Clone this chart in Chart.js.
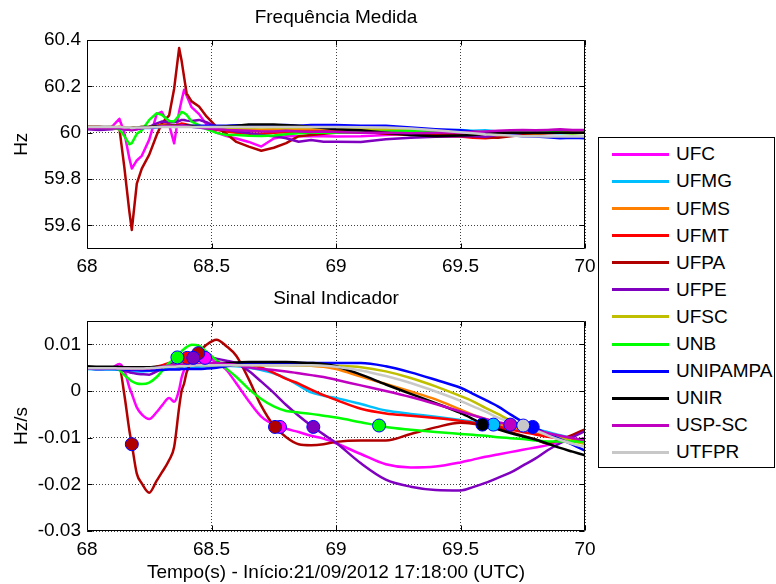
<!DOCTYPE html>
<html>
<head>
<meta charset="utf-8">
<script src="https://cdn.jsdelivr.net/npm/chart.js@4.4.1/dist/chart.umd.min.js"></script>
<style>
  html, body { margin: 0; padding: 0; background: #fff; }
  #fig { position: relative; width: 776px; height: 584px; overflow: hidden;
         font-family: 'Liberation Sans', Arial, Helvetica, sans-serif; }
  #fig canvas { position: absolute; left: 0; }
  #freqCanvas { top: 0; }
  #rateCanvas { top: 280px; }
  #legend { position: absolute; left: 598px; top: 137px; width: 177px; height: 331px;
            box-sizing: border-box; border: 1px solid #000; background: #fff; }
  #legend .swatch { position: absolute; left: 13px; width: 57px; height: 3px; }
  #legend .label { position: absolute; left: 77px; font-size: 19px; line-height: 20px;
                   color: #000; white-space: nowrap; }
</style>
</head>
<body>
<div id="fig">
  <canvas id="freqCanvas" width="776" height="280"></canvas>
  <canvas id="rateCanvas" width="776" height="304"></canvas>
  <div id="legend"></div>
</div>
<script>
// ---- stations, colours ----
const stations = ['UFC','UFMG','UFMS','UFMT','UFPA','UFPE','UFSC','UNB','UNIPAMPA','UNIR','USP-SC','UTFPR'];
const stationColors = ['#FF00FF','#00BFFF','#FF8000','#FF0000','#B00000','#8000C0','#BFBF00','#00FF00','#0000FF','#000000','#C000C0','#C8C8C8'];

// ---- sample instants (s) ----
const times = [68.00,68.05,68.10,68.13,68.15,68.17,68.18,68.20,68.22,68.25,68.28,68.30,68.33,68.35,68.37,68.38,68.39,68.40,68.42,68.45,68.48,68.52,68.56,68.60,68.65,68.70,68.75,68.80,68.85,68.90,68.95,69.00,69.10,69.20,69.30,69.40,69.50,69.55,69.60,69.65,69.70,69.75,69.80,69.85,69.90,69.95,70.00];

// ---- measured frequency (Hz) ----
const freqUFC = [60.02,60.02,60.025,60.06,60.0,59.89,59.845,59.88,59.90,59.97,60.08,60.09,60.033,59.954,60.09,60.14,60.185,60.16,60.11,60.08,60.035,60.0,59.985,59.975,59.96,59.94,59.975,59.985,59.985,59.985,59.985,59.983,59.985,59.99,59.995,59.995,60.0,60.0,60.0,59.998,60.0,60.0,60.002,60.0,60.0,60.0,60.0];
const freqUFMG = [60.02,60.022,60.018,60.02,60.015,60.012,60.015,60.018,60.02,60.02,60.022,60.025,60.028,60.025,60.028,60.03,60.03,60.028,60.025,60.022,60.018,60.015,60.012,60.01,60.008,60.01,60.012,60.01,60.012,60.015,60.012,60.012,60.015,60.01,60.012,60.01,60.012,60.008,60.01,60.005,60.0,60.002,60.0,60.0,59.998,60.0,60.0];
const freqUFMS = [60.025,60.025,60.022,60.025,60.02,60.018,60.02,60.022,60.025,60.025,60.028,60.03,60.03,60.028,60.03,60.032,60.03,60.03,60.028,60.025,60.022,60.02,60.018,60.015,60.012,60.012,60.015,60.012,60.015,60.015,60.012,60.015,60.012,60.01,60.008,60.005,60.005,60.003,60.0,60.0,60.002,60.0,59.998,60.0,60.0,59.998,60.0];
const freqUFMT = [60.02,60.022,60.02,60.025,60.02,60.015,60.015,60.02,60.022,60.025,60.03,60.035,60.035,60.03,60.035,60.04,60.038,60.035,60.03,60.025,60.02,60.012,60.005,60.0,59.995,59.995,60.0,60.002,60.005,60.005,60.005,60.005,60.0,60.0,59.995,59.985,59.983,59.978,59.976,59.98,59.99,59.995,60.0,60.0,60.0,60.002,60.0];
const freqUFPA = [60.025,60.025,60.02,60.02,59.85,59.66,59.58,59.78,59.845,59.905,59.99,60.04,60.075,60.19,60.365,60.31,60.24,60.17,60.135,60.113,60.07,60.025,59.995,59.96,59.94,59.922,59.935,59.955,59.985,59.99,59.995,60.0,60.005,59.995,59.99,59.995,59.99,59.985,59.98,59.978,59.985,59.99,59.995,59.998,60.0,60.0,60.0];
const freqUFPE = [60.015,60.012,60.015,60.02,60.015,60.012,60.01,60.015,60.02,60.025,60.04,60.048,60.045,60.045,60.05,60.055,60.055,60.052,60.05,60.055,60.045,60.025,60.015,60.005,59.998,59.99,59.985,59.976,59.961,59.968,59.961,59.961,59.96,59.972,59.978,59.982,59.985,59.985,59.982,59.99,60.0,60.01,60.005,60.01,60.012,60.008,60.01];
const freqUFSC = [60.025,60.022,60.025,60.025,60.022,60.02,60.02,60.022,60.025,60.025,60.028,60.03,60.03,60.03,60.03,60.032,60.03,60.03,60.03,60.028,60.025,60.025,60.022,60.02,60.02,60.022,60.022,60.02,60.022,60.022,60.02,60.02,60.018,60.015,60.012,60.008,60.005,60.005,60.002,60.0,60.0,60.0,59.998,60.0,60.0,60.0,60.0];
const freqUNB = [60.02,60.02,60.02,60.015,59.985,59.95,59.955,59.995,60.01,60.055,60.084,60.077,60.05,60.048,60.075,60.09,60.085,60.077,60.048,60.033,60.015,59.999,59.99,59.99,59.987,59.986,59.988,59.993,59.997,60.0,60.0,60.0,60.003,60.005,60.008,60.005,60.005,60.0,60.003,60.005,60.0,60.005,60.0,60.003,60.0,59.998,60.0];
const freqUNIPAMPA = [60.022,60.02,60.022,60.02,60.018,60.015,60.015,60.018,60.02,60.022,60.025,60.025,60.028,60.025,60.028,60.03,60.03,60.03,60.03,60.03,60.03,60.03,60.03,60.032,60.032,60.03,60.032,60.033,60.03,60.033,60.033,60.033,60.03,60.03,60.022,60.015,60.01,60.005,60.0,59.995,59.99,59.985,59.983,59.98,59.976,59.978,59.976];
const freqUNIR = [60.025,60.025,60.025,60.022,60.02,60.02,60.02,60.022,60.025,60.025,60.028,60.028,60.03,60.03,60.03,60.03,60.03,60.03,60.028,60.025,60.022,60.025,60.028,60.03,60.035,60.035,60.035,60.032,60.03,60.025,60.02,60.015,60.01,60.0,59.99,59.985,59.988,59.99,59.995,60.0,60.0,60.0,60.0,60.0,60.0,60.0,60.0];
const freqUSPSC = [60.018,60.02,60.018,60.02,60.015,60.012,60.012,60.015,60.02,60.022,60.025,60.028,60.03,60.028,60.03,60.032,60.03,60.028,60.025,60.022,60.018,60.015,60.012,60.01,60.008,60.005,60.005,60.008,60.005,60.003,60.005,60.003,60.0,60.0,59.998,60.0,60.002,60.003,60.005,60.008,60.01,60.012,60.01,60.012,60.015,60.012,60.012];
const freqUTFPR = [60.025,60.025,60.025,60.025,60.022,60.022,60.02,60.022,60.022,60.022,60.025,60.025,60.025,60.025,60.025,60.025,60.025,60.025,60.025,60.025,60.025,60.025,60.025,60.025,60.025,60.025,60.025,60.025,60.025,60.025,60.025,60.025,60.023,60.022,60.018,60.01,60.002,59.998,59.993,59.99,59.988,59.985,59.985,59.983,59.983,59.985,59.983];

// ---- indicator signal (Hz/s) ----
const rateUFC = [0.0048,0.0049,0.005,0.0058,0.0045,0.0008,-0.0006,-0.0035,-0.005,-0.006,-0.0045,-0.0032,-0.0015,-0.0023,0.0003,0.0029,0.0045,0.0057,0.007,0.0075,0.0071,0.0062,0.0045,0.0016,-0.0022,-0.0055,-0.0072,-0.0081,-0.0088,-0.0096,-0.0102,-0.0112,-0.0135,-0.0157,-0.0164,-0.0162,-0.0153,-0.0147,-0.0141,-0.0136,-0.0131,-0.0126,-0.0121,-0.0116,-0.011,-0.0106,-0.0101];
const rateUFMG = [0.0047,0.0046,0.0046,0.0045,0.0044,0.0043,0.0043,0.0042,0.0042,0.0043,0.0045,0.0046,0.0048,0.0049,0.005,0.005,0.005,0.0051,0.0051,0.0052,0.0053,0.0054,0.0054,0.0053,0.005,0.0045,0.0038,0.0027,0.0012,-0.0003,-0.001,-0.0015,-0.0028,-0.0042,-0.0049,-0.0055,-0.0062,-0.0066,-0.0069,-0.0073,-0.0076,-0.0079,-0.0082,-0.0088,-0.0095,-0.0101,-0.0106];
const rateUFMS = [0.0049,0.0049,0.005,0.005,0.005,0.0049,0.0049,0.0049,0.0049,0.005,0.0052,0.0054,0.0057,0.0059,0.006,0.0061,0.0061,0.0061,0.006,0.0058,0.0057,0.0056,0.0056,0.0056,0.0055,0.0056,0.0056,0.0056,0.0055,0.0054,0.0052,0.0047,0.0031,0.0015,-0.0001,-0.0018,-0.004,-0.0051,-0.006,-0.007,-0.0077,-0.0084,-0.009,-0.0095,-0.01,-0.0105,-0.011];
const rateUFMT = [0.0048,0.0048,0.005,0.005,0.0048,0.0047,0.0046,0.0046,0.0046,0.0047,0.0052,0.0055,0.006,0.0064,0.0067,0.0068,0.0069,0.007,0.0068,0.0064,0.006,0.0057,0.0056,0.0058,0.0057,0.005,0.0039,0.0026,0.0016,0.0003,-0.0009,-0.0019,-0.0038,-0.0048,-0.0053,-0.0058,-0.0064,-0.0068,-0.0072,-0.0076,-0.0082,-0.0088,-0.0093,-0.0098,-0.0102,-0.0106,-0.0109];
const rateUFPA = [0.005,0.005,0.005,0.0049,-0.0008,-0.0084,-0.0114,-0.0177,-0.0198,-0.0218,-0.0192,-0.0175,-0.0148,-0.012,-0.0035,0.0,0.0016,0.004,0.0062,0.0083,0.0099,0.011,0.0096,0.0075,0.0025,-0.0032,-0.0074,-0.0099,-0.0114,-0.0116,-0.0114,-0.0109,-0.0106,-0.0106,-0.0092,-0.0078,-0.0068,-0.007,-0.0074,-0.008,-0.0088,-0.0096,-0.0104,-0.0112,-0.0104,-0.0094,-0.0082];
const rateUFPE = [0.0048,0.0047,0.0048,0.0046,0.0043,0.004,0.0039,0.0037,0.0036,0.0035,0.0042,0.0047,0.0056,0.0062,0.0066,0.0067,0.0068,0.0069,0.0071,0.0072,0.0072,0.0069,0.0065,0.006,0.0043,0.002,-0.0004,-0.003,-0.0053,-0.0074,-0.0093,-0.0111,-0.0155,-0.019,-0.0205,-0.0212,-0.0213,-0.0206,-0.0197,-0.0186,-0.0175,-0.016,-0.0145,-0.0127,-0.0112,-0.0099,-0.0086];
const rateUFSC = [0.0049,0.0049,0.005,0.005,0.0049,0.0049,0.0049,0.0049,0.0049,0.005,0.0051,0.0052,0.0054,0.0055,0.0056,0.0056,0.0056,0.0056,0.0056,0.0056,0.0055,0.0055,0.0055,0.0055,0.0055,0.0055,0.0055,0.0055,0.0055,0.0055,0.0055,0.0054,0.0051,0.0042,0.0028,0.001,-0.0011,-0.0022,-0.0036,-0.0049,-0.0063,-0.0073,-0.0083,-0.0091,-0.0099,-0.0107,-0.0114];
const rateUNB = [0.005,0.005,0.005,0.0045,0.0034,0.0025,0.0021,0.0016,0.0015,0.0018,0.003,0.0042,0.006,0.0067,0.0075,0.0085,0.009,0.0094,0.0099,0.0097,0.0084,0.0066,0.0048,0.003,0.0004,-0.0017,-0.0033,-0.0043,-0.0046,-0.0049,-0.0053,-0.0057,-0.0067,-0.0077,-0.0083,-0.0088,-0.0092,-0.0094,-0.0096,-0.0099,-0.0101,-0.0103,-0.0106,-0.0108,-0.0108,-0.0108,-0.0108];
const rateUNIPAMPA = [0.0048,0.0047,0.0047,0.0047,0.0046,0.0045,0.0045,0.0045,0.0044,0.0044,0.0045,0.0045,0.0046,0.0046,0.0046,0.0047,0.0047,0.0047,0.0047,0.0047,0.0048,0.005,0.0053,0.0056,0.0059,0.006,0.006,0.006,0.006,0.006,0.006,0.006,0.006,0.0053,0.004,0.0024,0.0007,-0.0006,-0.0019,-0.0033,-0.005,-0.0066,-0.0079,-0.0092,-0.0103,-0.0115,-0.0128];
const rateUNIR = [0.0053,0.0052,0.0052,0.0052,0.0051,0.0051,0.0051,0.0051,0.0051,0.0051,0.0052,0.0052,0.0052,0.0053,0.0053,0.0053,0.0054,0.0054,0.0055,0.0056,0.0058,0.006,0.006,0.0061,0.0062,0.0062,0.0062,0.0062,0.0061,0.006,0.0058,0.0053,0.0035,0.0014,-0.0006,-0.0026,-0.0047,-0.006,-0.0074,-0.0082,-0.009,-0.0097,-0.0104,-0.0113,-0.0122,-0.013,-0.0138];
const rateUSPSC = [0.0049,0.0049,0.0049,0.0049,0.0048,0.0048,0.0047,0.0047,0.0047,0.0048,0.005,0.0052,0.0054,0.0055,0.0056,0.0057,0.0057,0.0058,0.0058,0.0058,0.006,0.006,0.0058,0.0056,0.0051,0.0047,0.0045,0.0042,0.0038,0.0034,0.003,0.0024,0.0012,0.0,-0.0013,-0.0028,-0.0044,-0.0052,-0.006,-0.0067,-0.0072,-0.0078,-0.0084,-0.009,-0.0096,-0.0101,-0.0105];
const rateUTFPR = [0.0049,0.0049,0.0049,0.0048,0.0048,0.0048,0.0048,0.0048,0.0048,0.0049,0.005,0.0051,0.0052,0.0052,0.0053,0.0053,0.0053,0.0054,0.0054,0.0055,0.0055,0.0055,0.0055,0.0055,0.0055,0.0055,0.0055,0.0055,0.0055,0.0055,0.0054,0.0052,0.0044,0.0032,0.0017,-0.0001,-0.0021,-0.0033,-0.0044,-0.0057,-0.0066,-0.0074,-0.0084,-0.0095,-0.0105,-0.0113,-0.012];

// ---- detection instants marked on the indicator signal ----
const markerStations = ['UFC','UFC','UFMG','UFMT','UFPA','UFPA','UFPA','UFPE','UFPE','UNB','UNB','UNIPAMPA','UNIR','USP-SC','UTFPR'];
const markerTimes    = [68.474,68.775,69.632,68.403,68.18,68.447,68.755,68.427,68.909,68.363,69.173,69.79,69.588,69.70,69.752];
const markerValues   = [0.0071,-0.0077,-0.0072,0.0071,-0.0114,0.0081,-0.0077,0.0071,-0.0077,0.0072,-0.0074,-0.0077,-0.0072,-0.0072,-0.0074];

// ---- axis ticks ----
const xTicks = [68, 68.5, 69, 69.5, 70];
const xTickLabels = ['68', '68.5', '69', '69.5', '70'];
const freqTicks = [59.6, 59.8, 60, 60.2, 60.4];
const freqTickLabels = ['59.6', '59.8', '60', '60.2', '60.4'];
const rateTicks = [-0.03, -0.02, -0.01, 0, 0.01];
const rateTickLabels = ['-0.03', '-0.02', '-0.01', '0', '0.01'];

const freqSeries = [freqUFC, freqUFMG, freqUFMS, freqUFMT, freqUFPA, freqUFPE, freqUFSC, freqUNB, freqUNIPAMPA, freqUNIR, freqUSPSC, freqUTFPR];
const rateSeries = [rateUFC, rateUFMG, rateUFMS, rateUFMT, rateUFPA, rateUFPE, rateUFSC, rateUNB, rateUNIPAMPA, rateUNIR, rateUSPSC, rateUTFPR];

const FONT_FAMILY = "'Liberation Sans', Arial, Helvetica, sans-serif";
const FONT_SIZE = 19;
const tickFont = { family: FONT_FAMILY, size: FONT_SIZE };

// title text centred over the plotting box
const panelTitle = {
  id: 'panelTitle',
  afterDraw(chart, args, opts) {
    const { ctx, chartArea: a } = chart;
    ctx.save();
    ctx.font = `${FONT_SIZE}px ${FONT_FAMILY}`;
    ctx.fillStyle = '#000';
    ctx.textAlign = 'center';
    ctx.textBaseline = 'middle';
    ctx.fillText(opts.text, (a.left + a.right) / 2, a.top - opts.offset);
    ctx.restore();
  }
};

// closed axes box with short inward tick marks on all four sides
const axesBox = {
  id: 'axesBox',
  afterDraw(chart) {
    const { ctx, chartArea: a, scales } = chart;
    const L = 5;
    const l = Math.round(a.left) + 0.5, r = Math.round(a.right) - 0.5;
    const t = Math.round(a.top) + 0.5, b = Math.round(a.bottom) - 0.5;
    ctx.save();
    ctx.strokeStyle = '#000';
    ctx.lineWidth = 1;
    ctx.beginPath();
    ctx.rect(l, t, r - l, b - t);
    scales.x.ticks.forEach(tk => {
      const px = Math.round(scales.x.getPixelForValue(tk.value)) + 0.5;
      ctx.moveTo(px, b); ctx.lineTo(px, b - L);
      ctx.moveTo(px, t); ctx.lineTo(px, t + L);
    });
    scales.y.ticks.forEach(tk => {
      const py = Math.round(scales.y.getPixelForValue(tk.value)) + 0.5;
      ctx.moveTo(l, py); ctx.lineTo(l + L, py);
      ctx.moveTo(r, py); ctx.lineTo(r - L, py);
    });
    ctx.stroke();
    ctx.restore();
  }
};

function lineDatasets(series, smooth) {
  return series.map((vals, i) => ({
    label: stations[i],
    data: vals.map((v, k) => ({ x: times[k], y: v })),
    borderColor: stationColors[i],
    backgroundColor: stationColors[i],
    borderWidth: 2.5,
    pointRadius: 0,
    borderJoinStyle: 'round',
    borderCapStyle: 'round',
    cubicInterpolationMode: smooth ? 'monotone' : 'default',
    tension: 0,
    fill: false,
    order: series.length - i   // later stations are drawn on top
  }));
}

function xScale(height, titleText) {
  return {
    type: 'linear', min: 68, max: 70,
    afterBuildTicks: s => { s.ticks = xTicks.map(v => ({ value: v })); },
    afterFit: s => { s.height = height; },
    ticks: { callback: (v, i) => xTickLabels[i], font: tickFont, color: '#000', padding: 7,
             maxRotation: 0, autoSkip: false },
    grid: { color: 'rgba(0,0,0,0.75)', lineWidth: 1, drawTicks: false },
    border: { display: false, dash: [1, 2] },
    title: titleText ? { display: true, text: titleText, font: tickFont, color: '#000',
                         padding: { top: 0, bottom: 0 } } : { display: false }
  };
}

function yScale(min, max, ticks, labels, titleText) {
  return {
    type: 'linear', min, max,
    afterBuildTicks: s => { s.ticks = ticks.map(v => ({ value: v })); },
    afterFit: s => { s.width = 87; },
    ticks: { callback: (v, i) => labels[i], font: tickFont, color: '#000', padding: 6, autoSkip: false },
    grid: { color: 'rgba(0,0,0,0.75)', lineWidth: 1, drawTicks: false },
    border: { display: false, dash: [1, 2] },
    title: { display: true, text: titleText, font: tickFont, color: '#000', padding: { top: 10, bottom: 0 } }
  };
}

const common = {
  responsive: false,
  animation: false,
  devicePixelRatio: 1,
  events: []
};

// upper panel: measured frequency
new Chart(document.getElementById('freqCanvas'), {
  type: 'line',
  data: { datasets: lineDatasets(freqSeries, false) },
  options: Object.assign({}, common, {
    layout: { padding: { top: 40, right: 191, bottom: 0, left: 0 } },
    plugins: { legend: { display: false }, title: { display: false }, tooltip: { enabled: false },
               panelTitle: { text: 'Frequência Medida', offset: 22 } },
    scales: {
      x: xScale(31.5, null),
      y: yScale(59.5, 60.4, freqTicks, freqTickLabels, 'Hz')
    }
  }),
  plugins: [panelTitle, axesBox]
});

// lower panel: indicator signal with detection markers
const markerDataset = {
  label: 'detections',
  data: markerTimes.map((t, k) => ({ x: t, y: markerValues[k] })),
  showLine: false,
  pointRadius: 6.5,
  pointBorderWidth: 1,
  pointBorderColor: '#0000FF',
  pointBackgroundColor: markerStations.map(n => stationColors[stations.indexOf(n)]),
  order: 0
};

new Chart(document.getElementById('rateCanvas'), {
  type: 'line',
  data: { datasets: lineDatasets(rateSeries, true).concat([markerDataset]) },
  options: Object.assign({}, common, {
    layout: { padding: { top: 41, right: 191, bottom: 0, left: 0 } },
    plugins: { legend: { display: false }, title: { display: false }, tooltip: { enabled: false },
               panelTitle: { text: 'Sinal Indicador', offset: 22 } },
    scales: {
      x: xScale(53, 'Tempo(s) - Início:21/09/2012 17:18:00 (UTC)'),
      y: yScale(-0.03, 0.015, rateTicks, rateTickLabels, 'Hz/s')
    }
  }),
  plugins: [panelTitle, axesBox]
});

// legend box
const legend = document.getElementById('legend');
stations.forEach((name, i) => {
  const cy = 16.3 + i * 27.1;
  const sw = document.createElement('div');
  sw.className = 'swatch';
  sw.style.top = (cy - 1.5) + 'px';
  sw.style.background = stationColors[i];
  const lb = document.createElement('div');
  lb.className = 'label';
  lb.style.top = (cy - 10) + 'px';
  lb.textContent = name;
  legend.appendChild(sw);
  legend.appendChild(lb);
});
</script>
</body>
</html>
